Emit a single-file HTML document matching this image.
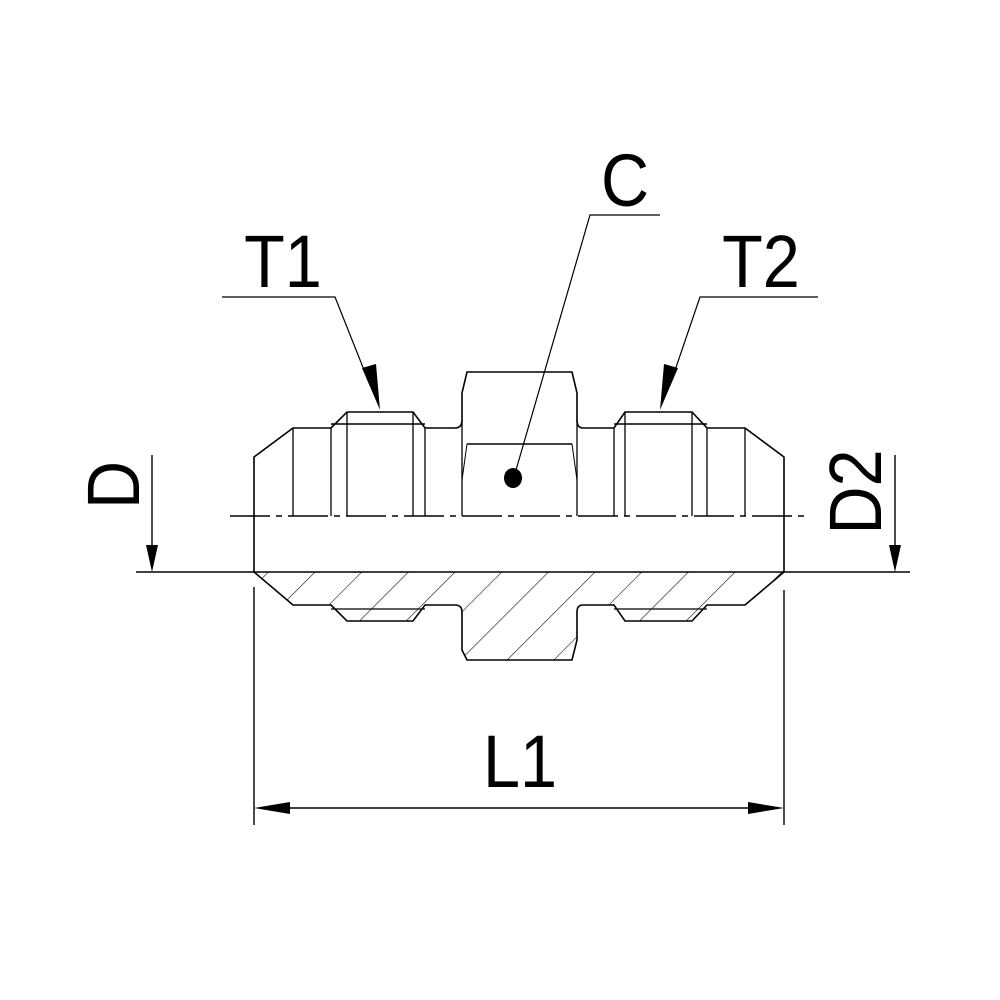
<!DOCTYPE html>
<html><head><style>html,body{margin:0;padding:0;background:#fff}svg{display:block}</style></head>
<body>
<svg width="1000" height="1000" viewBox="0 0 1000 1000" xmlns="http://www.w3.org/2000/svg">
<defs>
<pattern id="h" patternUnits="userSpaceOnUse" width="33" height="33" patternTransform="rotate(45)">
<line x1="0" y1="0" x2="0" y2="33" stroke="#000" stroke-width="1.1"/>
</pattern>
<clipPath id="sec"><path d="M254,572 L293,605 L331,605 L347,621 L413,621 L425,605 L455,605 Q462,605 462,612 L462,650 L467,660 L572,660 L577,640 L577,612 Q577,605 583,605 L614,605 L625,621 L692,621 L707,605 L745,605 L784,572 Z"/></clipPath>
</defs>
<g fill="none" stroke="#000" stroke-width="1.6">
<rect x="240" y="560" width="560" height="110" fill="url(#h)" stroke="none" clip-path="url(#sec)"/>
<path d="M254,572 L293,605 L331,605 L347,621 L413,621 L425,605 L455,605 Q462,605 462,612 L462,650 L467,660 L572,660 L577,640 L577,612 Q577,605 583,605 L614,605 L625,621 L692,621 L707,605 L745,605 L784,572"/>
<path d="M331,609 L425,609 M614,609 L707,609" stroke-width="1.2"/>
<path d="M254,572 L254,457 L293,428 L331,428 L347,412 L413,412 L425,428 L455,428 Q462,428 462,420 L462,393 L467,372 L572,372 L577,393 L577,420 Q577,428 583,428 L614,428 L625,412 L692,412 L707,428 L745,428 L784,457 L784,572"/>
<path d="M331,424 L425,424 M614,424 L707,424 M467,444 L572,444"/>
<path d="M293,428 V516 M331,428 V516 M347,412 V516 M413,412 V516 M425,428 V516 M462,420 V516 M577,420 V516 M614,428 V516 M625,412 V516 M692,412 V516 M707,428 V516 M745,428 V516" stroke-width="1.3"/>
<path d="M467,444 L462,480 M572,444 L577,480" stroke-width="1"/>
<line x1="230" y1="516" x2="808" y2="516" stroke-width="1.4" stroke-dasharray="40,6,6,6"/>
<line x1="136" y1="572" x2="910" y2="572" stroke-width="1.4"/>
<line x1="152" y1="455" x2="152" y2="545" stroke-width="1.4"/>
<line x1="895" y1="455" x2="895" y2="545" stroke-width="1.4"/>
<line x1="254" y1="587" x2="254" y2="825" stroke-width="1.4"/>
<line x1="784" y1="590" x2="784" y2="825" stroke-width="1.4"/>
<line x1="280" y1="808" x2="758" y2="808" stroke-width="1.4"/>
<path d="M222,297 H335 L370,385" stroke-width="1.2"/>
<path d="M818,297 H700 L670,385" stroke-width="1.2"/>
<path d="M660,215 H590 L516,470" stroke-width="1.2"/>
</g>
<g fill="#000">
<polygon points="152,572 146,545 158,545"/>
<polygon points="895,572 889,545 901,545"/>
<polygon points="254,808 290,802 290,814"/>
<polygon points="784,808 748,802 748,814"/>
<polygon points="380,410 362,368 376,364"/>
<polygon points="660,410 664,364 678,368"/>
<ellipse cx="513" cy="478" rx="9" ry="10"/>
</g>
<g font-family="Liberation Sans, sans-serif" font-size="74" fill="#000">
<text x="283" y="287" text-anchor="middle" transform="translate(283,0) scale(0.9,1) translate(-283,0)">T1</text>
<text x="761" y="287" text-anchor="middle" transform="translate(761,0) scale(0.9,1) translate(-761,0)">T2</text>
<text x="625" y="206" text-anchor="middle" transform="translate(625,0) scale(0.9,1) translate(-625,0)">C</text>
<text x="520" y="787" text-anchor="middle" transform="translate(520,0) scale(0.9,1) translate(-520,0)">L1</text>
<text transform="translate(139,485) rotate(-90) scale(0.9,1)" text-anchor="middle">D</text>
<text transform="translate(881,492) rotate(-90) scale(0.9,1)" text-anchor="middle">D2</text>
</g>
</svg>
</body></html>
